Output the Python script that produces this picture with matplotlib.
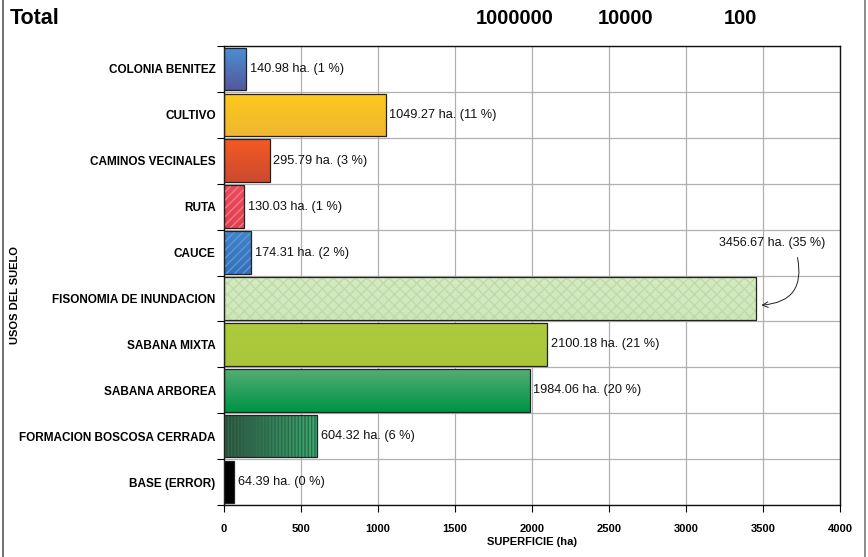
import matplotlib
matplotlib.use("Agg")
import matplotlib.pyplot as plt
import numpy as np
from matplotlib.colors import LinearSegmentedColormap

plt.rcParams['font.family'] = ['Liberation Sans', 'DejaVu Sans']

categories = ["COLONIA BENITEZ", "CULTIVO", "CAMINOS VECINALES", "RUTA", "CAUCE",
              "FISONOMIA DE INUNDACION", "SABANA MIXTA", "SABANA ARBOREA",
              "FORMACION BOSCOSA CERRADA", "BASE (ERROR)"]
values = [140.98, 1049.27, 295.79, 130.03, 174.31, 3456.67, 2100.18, 1984.06, 604.32, 64.39]
percents = [1, 11, 3, 1, 2, 35, 21, 20, 6, 0]
x_ticks = [0, 500, 1000, 1500, 2000, 2500, 3000, 3500, 4000]
header_texts = ["1000000", "10000", "100"]

# (top/left color, bottom/right color, direction, hatch, hatch color)
styles = [
    ("#4d8fd6", "#52599a", "v", None, None),
    ("#fdc919", "#efb733", "v", None, None),
    ("#f45a22", "#cc4a30", "v", None, None),
    ("#ec4a5c", "#e0404f", "v", "////", "#f27d8a"),
    ("#3f84cc", "#3570b8", "v", "////", "#5f98d4"),
    ("#d6eac4", "#cfe6bc", "v", "xxx", "#bddca6"),
    ("#afcb3c", "#a9c53a", "v", None, None),
    ("#52ad76", "#009444", "v", None, None),
    ("#2e4a3c", "#3bb074", "h", "|||||", "#2a6a48"),
    ("#000000", "#000000", "v", None, None),
]

fig = plt.figure(figsize=(8.68, 5.57), dpi=100)
ax = fig.add_axes([224/868, 1-505/557, 616/868, (505-46)/557])

y = np.arange(len(categories))
bar_h = 0.93
bars = ax.barh(y, values, height=bar_h, color='none', edgecolor='#222222',
               linewidth=0.9, zorder=4)

for b, (c1, c2, d, hatch, hc) in zip(bars, styles):
    x0, yb = b.get_x(), b.get_y()
    w, h = b.get_width(), b.get_height()
    cmap = LinearSegmentedColormap.from_list("g", [c1, c2])
    if d == "v":
        grad = np.linspace(0, 1, 64).reshape(-1, 1)
    else:
        grad = np.linspace(0, 1, 64).reshape(1, -1)
    im = ax.imshow(grad, cmap=cmap, aspect='auto', origin='upper',
                   extent=(x0, x0 + w, yb + h, yb), zorder=2, interpolation='bicubic')
    im.set_clip_path(b)
    if hatch:
        ax.barh(b.get_y() + h/2, w, height=h, left=x0, color='none',
                edgecolor=hc, hatch=hatch, linewidth=0, zorder=3)

ax.set_xlim(0, 4000)
ax.set_ylim(len(categories) - 0.5, -0.5)

for i, (v, p) in enumerate(zip(values, percents)):
    if i == 5:
        continue
    ax.text(v + 25, i, f"{v:.2f} ha. ({p} %)", va='center', ha='left',
            fontsize=9.2, color='#111111', zorder=6)

# annotation for FISONOMIA
ax.text(3560, 3.80, f"{values[5]:.2f} ha. ({percents[5]} %)", va='center', ha='center',
        fontsize=9, color='#111111', zorder=6)
ax.annotate("", xy=(values[5] + 15, 5.15), xytext=(3720, 4.05),
            arrowprops=dict(arrowstyle='->', color='#222222', lw=0.7,
                            connectionstyle="arc3,rad=-0.6"), zorder=6)

ax.set_xticks(x_ticks)
ax.set_xticklabels([str(t) for t in x_ticks], fontweight='bold', fontsize=8)
ax.set_yticks(y)
ax.set_yticklabels(categories, fontweight='bold', fontsize=8.5)
ax.set_yticks(np.arange(-0.5, len(categories), 1), minor=True)
ax.tick_params(axis='y', which='major', length=0, pad=6)
ax.tick_params(axis='y', which='minor', length=5, direction='out', width=0.8)
ax.tick_params(axis='x', which='major', length=5, direction='out', width=0.8, pad=9)

ax.grid(axis='x', which='major', color='#b0b0b0', linewidth=0.9, zorder=0)
ax.grid(axis='y', which='minor', color='#b0b0b0', linewidth=0.9, zorder=0)
ax.set_axisbelow(True)
for s in ax.spines.values():
    s.set_linewidth(1.0)
    s.set_color('#111111')

ax.set_xlabel("SUPERFICIE (ha)", fontweight='bold', fontsize=8, labelpad=2)
fig.text(15/868, 1 - 295/557, "USOS DEL SUELO", rotation=90, fontweight='bold',
         fontsize=8, ha='center', va='center')

fig.text(10/868, 1 - 18/557, "Total", fontweight='bold', fontsize=15.5, ha='left', va='center')
for t, xp in zip(header_texts, [515, 626, 740]):
    fig.text(xp/868, 1 - 18/557, t, fontweight='bold', fontsize=14.5, ha='center', va='center')

# figure frame lines
fig.add_artist(plt.Line2D([3/868, 3/868], [0, 1], color='#555555', lw=1.2))
fig.add_artist(plt.Line2D([865/868, 865/868], [0, 1], color='#777777', lw=1.2))

fig.savefig("out.png", dpi=100)
